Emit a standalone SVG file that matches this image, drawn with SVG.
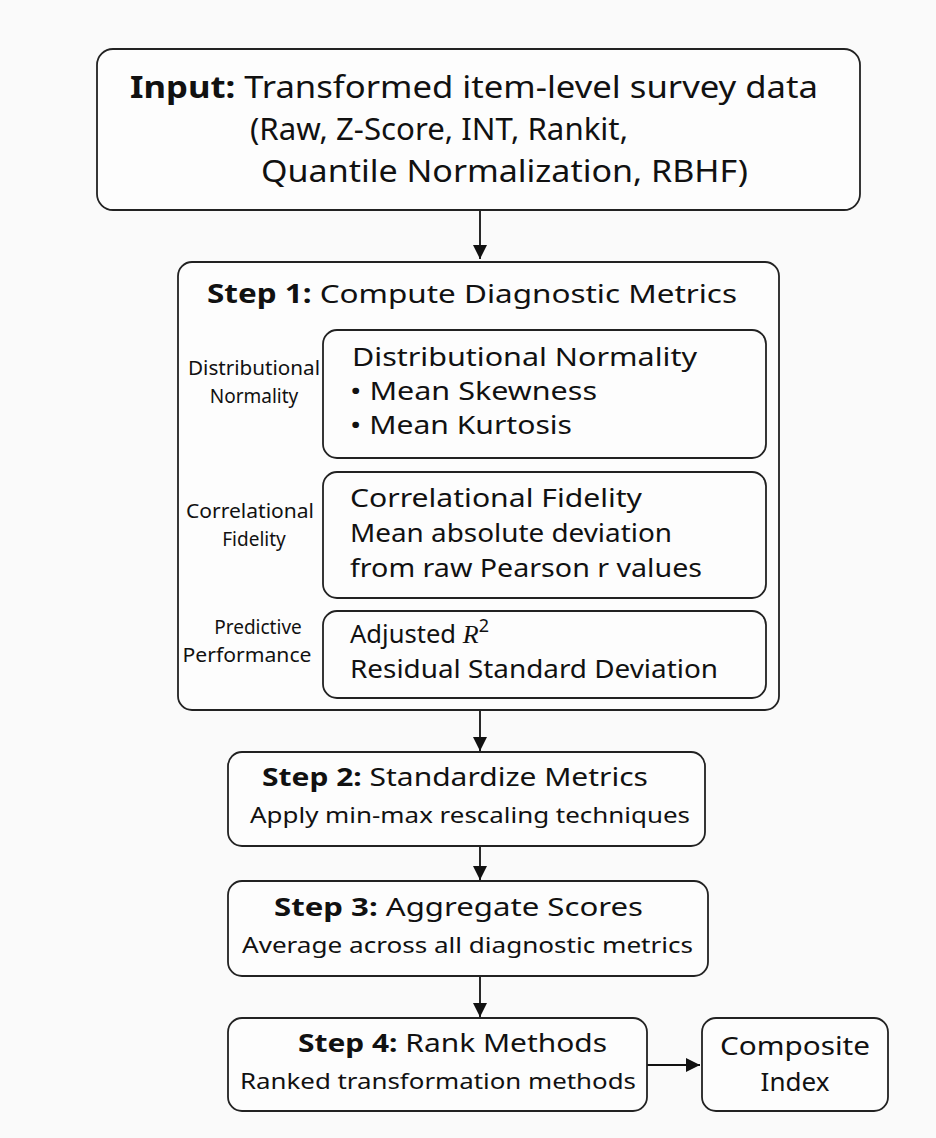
<svg xmlns="http://www.w3.org/2000/svg" width="936" height="1138" viewBox="0 0 936 1138">
<style>
.box{fill:#fdfdfd;stroke:#222;stroke-width:1.8}
.t{font-family:"Noto Sans","Liberation Sans",sans-serif;fill:#111}
.b{font-weight:bold}
.c{stroke:#111;stroke-width:1.8;fill:none}
</style>
<defs>
<marker id="ah2" viewBox="0 0 10 10" refX="10" refY="5" markerWidth="14" markerHeight="14" markerUnits="userSpaceOnUse" orient="auto"><path d="M0,0 L10,5 L0,10 z" fill="#111"/></marker>
</defs>
<rect width="936" height="1138" fill="#fafafa"/>
<g id="connectors">
<line class="c" x1="480" y1="210" x2="480" y2="259" marker-end="url(#ah2)"/>
<line class="c" x1="480" y1="710" x2="480" y2="751" marker-end="url(#ah2)"/>
<line class="c" x1="480" y1="846" x2="480" y2="880" marker-end="url(#ah2)"/>
<line class="c" x1="480" y1="976" x2="480" y2="1017" marker-end="url(#ah2)"/>
<line class="c" x1="647" y1="1065" x2="700" y2="1065" marker-end="url(#ah2)"/>
</g>
<g id="input">
<rect class="box" x="97" y="49" width="763" height="161" rx="16"/>
<text class="t" x="130" y="98" font-size="30" textLength="688" lengthAdjust="spacingAndGlyphs"><tspan class="b">Input:</tspan> Transformed item-level survey data</text>
<text class="t" x="250" y="140" font-size="30" textLength="378" lengthAdjust="spacingAndGlyphs">(Raw, Z-Score, INT, Rankit,</text>
<text class="t" x="261" y="182" font-size="30" textLength="487" lengthAdjust="spacingAndGlyphs">Quantile Normalization, RBHF)</text>
</g>
<g id="step1">
<rect class="box" x="178" y="262" width="601" height="448" rx="14"/>
<text class="t" x="207" y="303" font-size="26" textLength="530" lengthAdjust="spacingAndGlyphs"><tspan class="b">Step 1:</tspan> Compute Diagnostic Metrics</text>
</g>
<g id="label-dist">
<text class="t" x="254" y="375" font-size="19" text-anchor="middle" textLength="132" lengthAdjust="spacingAndGlyphs">Distributional</text>
<text class="t" x="254" y="403" font-size="19" text-anchor="middle">Normality</text>
</g>
<g id="metric-dist">
<rect class="box" x="323" y="330" width="443" height="128" rx="14"/>
<text class="t" x="352" y="366" font-size="25" textLength="345" lengthAdjust="spacingAndGlyphs">Distributional Normality</text>
<text class="t" x="350" y="400" font-size="25" textLength="247" lengthAdjust="spacingAndGlyphs">• Mean Skewness</text>
<text class="t" x="350" y="434" font-size="25" textLength="222" lengthAdjust="spacingAndGlyphs">• Mean Kurtosis</text>
</g>
<g id="label-corr">
<text class="t" x="250" y="518" font-size="19" text-anchor="middle" textLength="128" lengthAdjust="spacingAndGlyphs">Correlational</text>
<text class="t" x="254" y="546" font-size="19" text-anchor="middle">Fidelity</text>
</g>
<g id="metric-corr">
<rect class="box" x="323" y="472" width="443" height="126" rx="14"/>
<text class="t" x="350" y="507" font-size="25" textLength="292" lengthAdjust="spacingAndGlyphs">Correlational Fidelity</text>
<text class="t" x="350" y="542" font-size="25" textLength="322" lengthAdjust="spacingAndGlyphs">Mean absolute deviation</text>
<text class="t" x="350" y="577" font-size="25" textLength="352" lengthAdjust="spacingAndGlyphs">from raw Pearson r  values</text>
</g>
<g id="label-pred">
<text class="t" x="258" y="634" font-size="19" text-anchor="middle">Predictive</text>
<text class="t" x="247" y="662" font-size="19" text-anchor="middle" textLength="129" lengthAdjust="spacingAndGlyphs">Performance</text>
</g>
<g id="metric-pred">
<rect class="box" x="323" y="611" width="443" height="87" rx="14"/>
<text class="t" x="350" y="643" font-size="26"><tspan textLength="106" lengthAdjust="spacingAndGlyphs">Adjusted</tspan> <tspan font-family="Liberation Serif,serif" font-style="italic">R</tspan><tspan font-size="18" dy="-11">2</tspan></text>
<text class="t" x="350" y="678" font-size="25" textLength="368" lengthAdjust="spacingAndGlyphs">Residual Standard Deviation</text>
</g>
<g id="step2">
<rect class="box" x="228" y="752" width="477" height="94" rx="14"/>
<text class="t" x="262" y="786" font-size="25" textLength="386" lengthAdjust="spacingAndGlyphs"><tspan class="b">Step 2:</tspan> Standardize Metrics</text>
<text class="t" x="250" y="823" font-size="22" textLength="440" lengthAdjust="spacingAndGlyphs">Apply min-max rescaling techniques</text>
</g>
<g id="step3">
<rect class="box" x="228" y="881" width="480" height="95" rx="14"/>
<text class="t" x="274" y="916" font-size="25" textLength="369" lengthAdjust="spacingAndGlyphs"><tspan class="b">Step 3:</tspan> Aggregate Scores</text>
<text class="t" x="242" y="953" font-size="22" textLength="451" lengthAdjust="spacingAndGlyphs">Average across all diagnostic metrics</text>
</g>
<g id="step4">
<rect class="box" x="228" y="1018" width="419" height="93" rx="14"/>
<text class="t" x="298" y="1052" font-size="25" textLength="309" lengthAdjust="spacingAndGlyphs"><tspan class="b">Step 4:</tspan> Rank Methods</text>
<text class="t" x="240" y="1089" font-size="22" textLength="396" lengthAdjust="spacingAndGlyphs">Ranked transformation methods</text>
</g>
<g id="composite">
<rect class="box" x="702" y="1018" width="186" height="93" rx="14"/>
<text class="t" x="795" y="1055" font-size="26" text-anchor="middle" textLength="150" lengthAdjust="spacingAndGlyphs">Composite</text>
<text class="t" x="795" y="1091" font-size="26" text-anchor="middle">Index</text>
</g>
</svg>
